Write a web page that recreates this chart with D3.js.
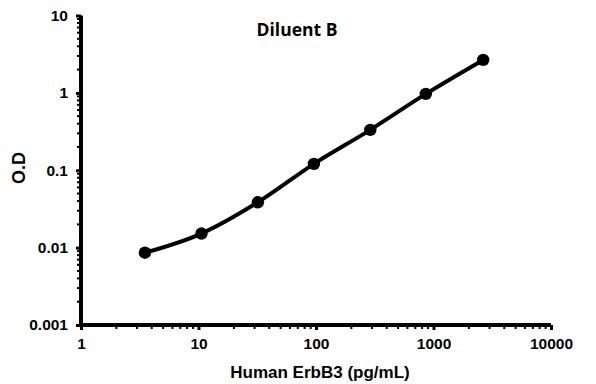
<html>
  <head>
    <style>
      body { margin: 0; background: #fff; }
      text { font-family: "Liberation Sans", Arial, sans-serif; font-weight: bold; fill: #000; }
    </style>
  </head>
  <body>
    <script src="https://d3js.org/d3.v7.min.js"></script>
    <script>
    var width = 596, height = 384;

    // standard curve
    var conc = [3.5, 10.6, 32, 96, 290, 860, 2650];
    var od = [0.0086, 0.0152, 0.0385, 0.121, 0.333, 0.97, 2.67];
    var xTicks = [1, 10, 100, 1000, 10000];
    var yTicks = [0.001, 0.01, 0.1, 1, 10];

    var svg = d3.select("body")
        .append("svg")
        .attr("width", width)
        .attr("height", height);

    var x = d3.scaleLog().domain([1, 10000]).range([81, 551]);
    var y = d3.scaleLog().domain([0.001, 10]).range([325, 15.5]);

    // minor ticks
    var minorX = [], minorY = [];
    for (var d = 1; d < 10000; d *= 10) for (var k = 2; k < 10; k++) minorX.push(d * k);
    for (var e = 0.001; e < 9; e *= 10) for (var j = 2; j < 10; j++) minorY.push(e * j);

    svg.selectAll(".mx").data(minorX).enter().append("rect")
        .attr("x", function(d) { return x(d) - 1; })
        .attr("y", y(0.001)).attr("width", 2).attr("height", 4)
        .attr("fill", "#000");
    svg.selectAll(".my").data(minorY).enter().append("rect")
        .attr("y", function(d) { return y(d) - 1; })
        .attr("x", x(1) - 4).attr("width", 4).attr("height", 2)
        .attr("fill", "#000");

    var xAxis = svg.append("g")
        .attr("transform", "translate(0," + y(0.001) + ")")
        .call(d3.axisBottom(x).tickValues(xTicks).tickFormat(d3.format("d")).tickSize(5).tickSizeOuter(0).tickPadding(8));
    var yAxis = svg.append("g")
        .attr("transform", "translate(" + x(1) + ",0)")
        .call(d3.axisLeft(y).tickValues(yTicks).tickFormat(function(d) { return String(+d.toPrecision(1)); }).tickSize(5).tickSizeOuter(0).tickPadding(8));

    [xAxis, yAxis].forEach(function(g) {
      g.select(".domain").remove();
      g.selectAll(".tick line").attr("stroke", "#000").attr("stroke-width", 3);
      g.selectAll(".tick text").style("font-size", "15.5px");
    });

    // axis lines
    svg.append("rect")
        .attr("x", x(1) - 2).attr("y", y(10))
        .attr("width", 4).attr("height", y(0.001) - y(10) + 2)
        .attr("fill", "#000");
    svg.append("rect")
        .attr("x", x(1) - 2).attr("y", y(0.001) - 2)
        .attr("width", x(10000) - x(1) + 2).attr("height", 4)
        .attr("fill", "#000");

    var line = d3.line()
        .x(function(d, i) { return x(conc[i]); })
        .y(function(d) { return y(d); })
        .curve(d3.curveMonotoneX);

    svg.append("path")
        .datum(od)
        .attr("d", line)
        .attr("fill", "none")
        .attr("stroke", "#000")
        .attr("stroke-width", 4);

    svg.selectAll(".dot").data(od).enter().append("circle")
        .attr("cx", function(d, i) { return x(conc[i]); })
        .attr("cy", function(d) { return y(d); })
        .attr("r", 6.2)
        .attr("fill", "#000");

    svg.append("text")
        .attr("x", 297).attr("y", 36)
        .attr("text-anchor", "middle")
        .style("font-family", "'Open Sans', Lato, sans-serif")
        .style("font-size", "17.5px")
        .text("Diluent B");

    svg.append("text")
        .attr("x", 320).attr("y", 378)
        .attr("text-anchor", "middle")
        .style("font-size", "17px")
        .text("Human ErbB3 (pg/mL)");

    svg.append("text")
        .attr("transform", "translate(25,168) rotate(-90)")
        .attr("text-anchor", "middle")
        .style("font-size", "18px")
        .text("O.D");
    </script>
  </body>
</html>
